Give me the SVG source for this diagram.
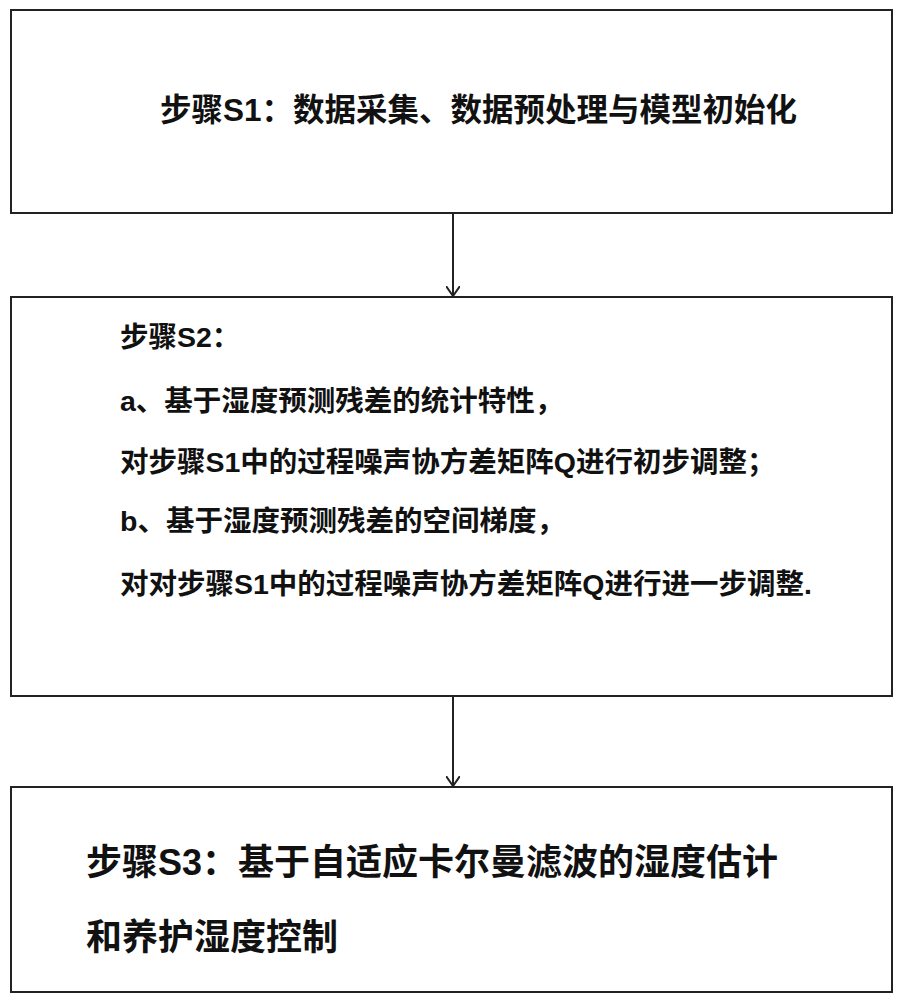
<svg xmlns="http://www.w3.org/2000/svg" width="903" height="1000" viewBox="0 0 903 1000">
<style>
.box{fill:#fff;stroke:#222;stroke-width:2}
.t{font-family:"Liberation Sans","Noto Sans CJK SC",sans-serif;font-weight:bold;fill:#111}
.c{stroke:#222;stroke-width:2;fill:none}
</style>
<defs><marker id="a" markerWidth="14" markerHeight="14" refX="10" refY="7" orient="auto" markerUnits="userSpaceOnUse"><path d="M0,0 L10,7 L0,14" fill="none" stroke="#222" stroke-width="2"/></marker></defs>
<rect width="903" height="1000" fill="#fff"/>
<g id="s1"><rect class="box" x="11" y="10" width="881" height="203"/>
<text class="t" x="160" y="121" font-size="31.5">步骤S1：数据采集、数据预处理与模型初始化</text></g>
<g id="s2"><rect class="box" x="11" y="297" width="881" height="399"/>
<g class="t" font-size="28.5">
<text x="120" y="347">步骤S2：</text>
<text x="120" y="411">a、基于湿度预测残差的统计特性，</text>
<text x="120" y="472">对步骤S1中的过程噪声协方差矩阵Q进行初步调整；</text>
<text x="120" y="531">b、基于湿度预测残差的空间梯度，</text>
<text x="120" y="594">对对步骤S1中的过程噪声协方差矩阵Q进行进一步调整.</text></g></g>
<g id="s3"><rect class="box" x="11" y="787" width="881" height="205"/>
<g class="t" font-size="36"><text x="86" y="875">步骤S3：基于自适应卡尔曼滤波的湿度估计</text>
<text x="86" y="950">和养护湿度控制</text></g></g>
<g id="connectors">
<path class="c" d="M453,213 V296" marker-end="url(#a)"/>
<path class="c" d="M453,696 V786" marker-end="url(#a)"/>
</g>
</svg>
